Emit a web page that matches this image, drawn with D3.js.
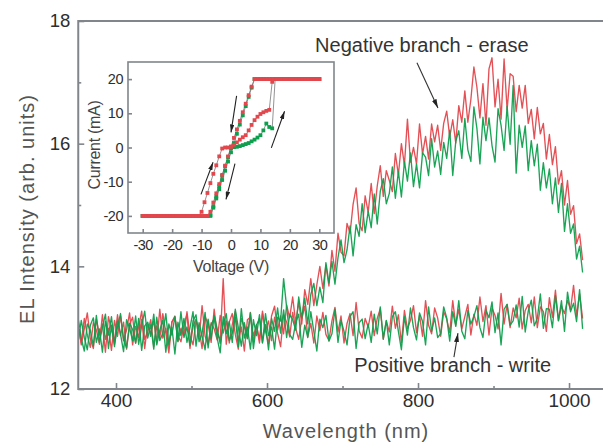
<!DOCTYPE html>
<html><head><meta charset="utf-8">
<script src="https://cdn.jsdelivr.net/npm/d3@7"></script>
<style>
body{margin:0;background:#fff;}
svg{display:block;font-family:"Liberation Sans",Arial,Helvetica,sans-serif;}
</style></head><body>
<svg id="chart" width="603" height="444"></svg>
<script>
// EL spectra, sampled every 4 nm from 350 nm
const wavelengthStart = 350;
const wavelengthStep = 4;

const negRed = [
13.10,12.72,12.98,13.24,12.82,12.66,13.14,12.88,13.06,12.60,13.18,12.96,
12.79,13.21,12.87,13.09,12.65,13.05,13.17,12.75,13.01,13.27,12.81,12.93,
13.13,12.69,13.03,12.83,13.23,12.91,12.59,13.09,13.19,12.77,12.99,12.87,
13.26,12.86,12.72,13.12,12.98,12.66,13.18,13.06,12.76,13.30,12.90,12.80,
13.80,12.73,13.09,13.23,12.89,12.65,13.15,13.01,12.83,13.25,12.77,13.05,
12.80,13.23,12.94,12.74,13.19,13.35,12.96,13.19,12.90,13.37,13.16,13.50,
13.08,13.42,13.06,13.62,13.38,13.80,13.36,13.70,14.00,13.64,14.02,13.68,
14.26,13.92,14.54,14.23,14.17,14.70,14.54,15.01,15.28,14.70,14.58,15.15,
14.88,15.35,14.86,15.31,15.64,15.14,15.56,15.40,15.22,15.84,15.49,16.00,
15.65,16.40,15.70,15.94,15.67,16.32,15.83,16.12,15.75,16.32,16.03,16.30,
15.89,16.33,16.53,16.11,16.39,16.01,16.62,16.35,16.86,16.35,16.72,17.25,
16.92,16.42,16.98,16.30,17.22,17.40,16.60,17.05,16.40,17.38,16.55,17.14,
17.10,16.52,16.95,16.58,16.95,16.33,16.56,16.08,16.59,16.16,16.33,15.75,
16.15,15.66,15.95,15.34,15.56,15.00,15.40,14.85,14.99,14.37,14.53,14.10];

const negGreen = [
13.14,12.82,12.62,13.06,12.96,12.70,13.20,12.76,13.00,13.22,12.66,13.04,
12.69,13.11,12.89,12.61,13.13,12.99,12.79,13.19,12.73,13.03,13.27,12.83,
13.05,12.65,13.17,12.79,12.91,13.23,12.73,13.01,12.57,13.09,12.87,13.15,
12.76,13.00,13.26,12.70,13.08,12.86,12.64,13.14,12.82,13.20,12.98,12.74,
13.05,13.23,12.79,12.91,13.17,12.69,13.31,12.83,13.01,12.65,13.13,12.87,
13.21,12.76,13.05,12.64,13.15,12.94,13.32,12.91,13.29,12.84,13.22,13.13,
12.96,13.50,13.16,13.48,13.06,13.54,13.72,13.36,13.66,13.41,14.06,13.73,
14.08,13.71,14.14,14.43,14.06,14.27,14.66,14.17,14.68,14.49,15.02,14.55,
14.90,14.63,15.18,14.69,15.22,15.43,15.02,15.19,15.62,15.11,15.55,15.13,
15.71,15.39,15.85,15.30,15.67,15.28,15.85,15.78,15.48,16.08,15.62,15.88,
15.50,16.02,15.76,16.22,15.48,16.04,16.21,15.76,16.41,15.90,15.71,16.60,
16.25,15.67,16.43,16.05,16.42,15.97,15.70,16.57,16.30,15.89,16.61,15.99,
16.95,15.52,16.30,15.94,16.29,15.56,16.05,15.64,15.99,15.24,15.69,15.28,
15.59,15.02,15.44,14.88,15.35,14.57,15.02,14.54,14.69,14.12,14.33,13.90];

const posRed = [
13.03,12.75,13.15,12.88,12.68,13.08,12.96,12.73,13.21,12.81,12.99,12.63,
13.12,12.86,13.19,12.79,12.96,13.24,12.72,13.02,12.84,13.14,12.66,13.06,
12.90,13.11,12.75,13.30,12.83,12.99,12.69,13.09,13.17,12.87,12.77,13.05,
13.22,12.66,13.02,13.14,12.82,13.36,12.86,12.72,13.08,12.98,12.80,13.20,
12.91,13.11,12.75,13.05,13.27,12.79,13.01,12.62,13.13,13.17,12.87,13.03,
12.75,13.27,12.95,13.11,12.79,13.17,12.91,12.69,13.21,13.09,12.85,13.25,
12.99,12.81,13.15,13.35,12.85,13.07,12.75,13.19,12.95,13.25,12.89,12.79,
13.11,13.33,12.93,13.19,12.75,13.07,13.23,12.87,13.41,12.95,12.83,13.15,
13.01,13.27,12.87,13.15,13.31,12.81,13.11,12.93,13.35,12.99,13.21,12.75,
13.28,12.98,13.12,13.36,12.92,13.20,12.86,13.44,13.04,12.90,13.32,13.16,
12.86,13.26,13.14,12.92,13.44,13.04,13.30,12.98,13.18,13.38,12.88,13.22,
13.04,13.50,13.10,13.36,12.88,13.32,13.20,12.98,13.56,13.06,13.38,13.00,
13.32,13.16,13.48,12.98,13.28,13.38,13.08,13.50,13.00,13.34,13.26,12.94,
13.49,13.17,13.61,13.11,13.35,13.23,13.45,13.29,13.69,13.19,13.55,13.15];

const posGreen = [
12.78,13.12,12.84,12.64,13.04,13.16,12.76,12.98,12.60,13.10,12.88,13.18,
12.73,13.01,13.23,12.81,12.67,13.07,12.97,12.75,13.15,12.63,13.03,13.09,
12.86,13.22,12.72,12.96,13.12,12.60,13.06,12.88,13.18,12.78,13.26,12.84,
13.01,12.71,13.11,13.21,12.77,12.91,13.25,12.67,13.05,13.15,12.83,12.59,
13.18,12.90,13.10,12.76,13.30,13.00,12.70,13.08,12.82,13.24,12.66,13.04,
13.15,12.75,13.23,12.87,13.01,12.65,13.17,13.11,13.80,13.33,12.89,12.81,
13.08,13.22,12.68,13.04,12.84,13.26,12.94,12.62,13.14,13.00,13.20,12.78,
12.90,13.30,12.76,13.12,12.94,12.72,13.18,13.26,12.66,13.08,13.14,12.82,
13.06,12.76,13.22,12.90,13.34,12.82,13.12,12.72,13.18,13.26,12.94,12.64,
13.18,12.88,13.32,13.00,12.80,13.24,13.10,12.72,13.34,12.94,13.16,12.84,
12.90,13.34,13.16,12.78,13.26,13.02,13.44,12.94,12.82,13.28,13.06,13.18,
13.36,13.00,12.84,13.28,13.16,13.42,12.92,13.24,12.72,13.30,13.38,13.04,
13.11,13.37,13.01,13.51,12.93,13.27,13.45,13.03,13.15,13.55,12.99,13.31,
13.30,13.00,13.52,13.12,13.44,12.94,13.58,13.26,13.40,13.10,13.62,12.98];

const wavelengthTicks = [400, 600, 800, 1000];
const wavelengthMinorTicks = [500, 700, 900];
const intensityTicks = [12, 14, 16, 18];
const intensityMinorTicks = [13, 15, 17];

// I-V sweeps (inset): voltage grid, forward sweep -30 -> 30, reverse sweep 30 -> -30
const insetVoltage = [-30,-29,-28,-27,-26,-25,-24,-23,-22,-21,-20,-19,-18,-17,-16,-15,-14,-13,-12,-11,
  -10,-9,-8,-7,-6,-5,-4,-3,-2,-1,0,1,2,3,4,5,6,7,8,9,10,11,12,13,14,15,16,17,18,19,20,
  21,22,23,24,25,26,27,28,29,30];
const redForward = [-20,-20,-20,-20,-20,-20,-20,-20,-20,-20,-20,-20,-20,-20,-20,-20,-20,-20,-20,-20,
  -18.8,-16,-13.3,-10.4,-7.7,-5.2,-2.6,-0.3,0,0,0.2,0.8,1.5,2.3,3.0,3.6,5.0,6.6,8.0,9.0,9.8,10.3,10.7,11.0,19.2,
  20,20,20,20,20,20,20,20,20,20,20,20,20,20,20,20];
const greenForward = [-20,-20,-20,-20,-20,-20,-20,-20,-20,-20,-20,-20,-20,-20,-20,-20,-20,-20,-20,-20,
  -20,-20,-20,-19.8,-17.2,-14.3,-11.3,-8.3,-5.5,-2.8,-0.2,0.1,0.2,0.4,0.7,1.0,1.3,1.8,2.3,2.9,3.6,5.0,7.0,6.0,5.6,
  20,20,20,20,20,20,20,20,20,20,20,20,20,20,20,20];
// reverse sweeps listed from +30 V down to -30 V
const redReverse = [20,20,20,20,20,20,20,20,20,20,20,20,20,20,20,20,20,20,20,20,20,20,20,
  17.8,15.3,12.8,10.3,7.8,5.3,2.8,0.3,-2.6,-5.3,-8.0,-10.7,-13.4,-16.1,-18.8,
  -20,-20,-20,-20,-20,-20,-20,-20,-20,-20,-20,-20,-20,-20,-20,-20,-20,-20,-20,-20,-20,-20,-20];
const greenReverse = [20,20,20,20,20,20,20,20,20,20,20,20,20,20,20,20,20,20,20,20,20,20,20,
  17.5,14.8,12.1,9.4,6.7,4.0,1.3,-1.4,-4.1,-6.8,-9.5,-12.2,-14.9,-17.6,-20,
  -20,-20,-20,-20,-20,-20,-20,-20,-20,-20,-20,-20,-20,-20,-20,-20,-20,-20,-20,-20,-20,-20,-20];
const voltageTicks = [-30, -20, -10, 0, 10, 20, 30];
const currentTicks = [-20, -10, 0, 10, 20];

// sweep-direction arrows in the inset: [V0, I0, V1, I1]
const insetArrows = [[-10.2,-13.7,-6.1,-4.3],[1.9,15.1,0.0,4.4],[1.35,-4.7,-1.7,-15.2],[13.7,-0.1,18.2,10.6]];
// annotations on the spectra: text baseline anchor (nm, intensity) and arrow [nm0, I0, nm1, I1]
const annotations = [
  {text: "Negative branch - erase", at: [805, 17.49], arrow: [798.6, 17.32, 826.4, 16.58]},
  {text: "Positive branch - write", at: [846, 12.27], arrow: [847.6, 12.52, 852.9, 12.91]}
];

const RED = "#e1474c", GREEN = "#0d9f4d", AXIS = "#80868c";

const svg = d3.select("#chart");
const x = d3.scaleLinear().domain([350, 1045]).range([78.25, 603]);
const y = d3.scaleLinear().domain([12, 18]).range([389, 21]);

const defs = svg.append("defs");
defs.append("clipPath").attr("id", "plotClip").append("rect")
  .attr("x", x(350)).attr("y", y(18)).attr("width", 603 - x(350)).attr("height", y(12) - y(18));
function head(id, len, wid) {
  defs.append("marker").attr("id", id).attr("viewBox", `0 0 ${len} ${wid}`)
    .attr("refX", len).attr("refY", wid / 2).attr("markerWidth", len).attr("markerHeight", wid)
    .attr("markerUnits", "userSpaceOnUse").attr("orient", "auto")
    .append("path").attr("d", `M0,0L${len},${wid/2}L0,${wid}Z`).attr("fill", "#222");
}
head("headMain", 9, 5);
head("headInset", 8, 4.5);

// spectra
const wl = i => wavelengthStart + i * wavelengthStep;
const line = d3.line().x((d, i) => x(wl(i))).y(d => y(d));
const traces = svg.append("g").attr("clip-path", "url(#plotClip)");
[[negRed, RED], [posRed, RED], [negGreen, GREEN], [posGreen, GREEN]].forEach(([vals, col]) => {
  traces.append("path").datum(vals).attr("d", line)
    .attr("fill", "none").attr("stroke", col).attr("stroke-width", 1.35)
    .attr("stroke-linejoin", "round").attr("stroke-opacity", 0.95);
});

// frame (right edge lies beyond the view)
svg.append("path")
  .attr("d", `M${x(1045)+4},${y(18)}H${x(350)}V${y(12)}H${x(1045)+4}`)
  .attr("fill", "none").attr("stroke", AXIS).attr("stroke-width", 2);

function styleAxis(g, size) {
  g.select(".domain").remove();
  g.selectAll(".tick line").attr("stroke", AXIS).attr("stroke-width", 1.6);
  g.selectAll(".tick text").attr("fill", "#2e2e2e").attr("font-size", size).attr("font-family", null);
}
const gx = svg.append("g").attr("transform", `translate(0,${y(12)})`)
  .call(d3.axisBottom(x).tickValues(wavelengthTicks).tickSize(-6).tickSizeOuter(0).tickPadding(5).tickFormat(d => String(d)));
styleAxis(gx, 19);
const gxm = svg.append("g").attr("transform", `translate(0,${y(12)})`)
  .call(d3.axisBottom(x).tickValues(wavelengthMinorTicks).tickSize(-3).tickSizeOuter(0).tickFormat(""));
styleAxis(gxm, 19);
const gy = svg.append("g").attr("transform", `translate(${x(350)},0)`)
  .call(d3.axisLeft(y).tickValues(intensityTicks).tickSize(-6).tickSizeOuter(0).tickPadding(8).tickFormat(d => String(d)));
styleAxis(gy, 18.5);
const gym = svg.append("g").attr("transform", `translate(${x(350)},0)`)
  .call(d3.axisLeft(y).tickValues(intensityMinorTicks).tickSize(-3).tickSizeOuter(0).tickFormat(""));
styleAxis(gym, 18.5);

svg.append("text").attr("x", 346).attr("y", 438).attr("text-anchor", "middle")
  .attr("font-size", 20).attr("letter-spacing", 1).attr("fill", "#555").text("Wavelength (nm)");
svg.append("text").attr("transform", "translate(34,209) rotate(-90)").attr("text-anchor", "middle")
  .attr("font-size", 20).attr("letter-spacing", 1).attr("fill", "#555").text("EL Intensity (arb. units)");

// annotations
annotations.forEach(a => {
  svg.append("text").attr("x", x(a.at[0])).attr("y", y(a.at[1])).attr("text-anchor", "middle")
    .attr("font-size", 20).attr("fill", "#333").text(a.text);
  svg.append("line").attr("x1", x(a.arrow[0])).attr("y1", y(a.arrow[1]))
    .attr("x2", x(a.arrow[2])).attr("y2", y(a.arrow[3]))
    .attr("stroke", "#333").attr("stroke-width", 1.1).attr("marker-end", "url(#headMain)");
});

// inset: I-V hysteresis
const ix = d3.scaleLinear().domain([-35, 35]).range([128, 334]);
const iy = d3.scaleLinear().domain([-25, 25]).range([233, 62]);
const inset = svg.append("g");
inset.append("rect").attr("x", ix(-35)).attr("y", iy(25)).attr("width", ix(35) - ix(-35))
  .attr("height", iy(-25) - iy(25)).attr("fill", "#fff").attr("stroke", AXIS).attr("stroke-width", 1.6);

const ixAxis = inset.append("g").attr("transform", `translate(0,${iy(-25)})`)
  .call(d3.axisBottom(ix).tickValues(voltageTicks).tickSize(-4).tickSizeOuter(0).tickPadding(7).tickFormat(d => String(d)));
styleAxis(ixAxis, 14.5);
const iyAxis = inset.append("g").attr("transform", `translate(${ix(-35)},0)`)
  .call(d3.axisLeft(iy).tickValues(currentTicks).tickSize(-4).tickSizeOuter(0).tickPadding(5).tickFormat(d => String(d)));
styleAxis(iyAxis, 14.5);
inset.selectAll(".tick text").attr("letter-spacing", -0.5);

inset.append("text").attr("x", 231).attr("y", 272).attr("text-anchor", "middle")
  .attr("font-size", 16).attr("letter-spacing", -0.3).attr("fill", "#444").text("Voltage (V)");
inset.append("text").attr("transform", "translate(100,145) rotate(-90)").attr("text-anchor", "middle")
  .attr("font-size", 16).attr("letter-spacing", -0.3).attr("fill", "#444").text("Current (mA)");

const reversedV = insetVoltage.slice().reverse();
const sweeps = [
  [insetVoltage, greenForward, GREEN], [reversedV, greenReverse, GREEN],
  [insetVoltage, redForward, RED], [reversedV, redReverse, RED]
];
const ivLine = d3.line().x(d => ix(d[0])).y(d => iy(d[1]));
sweeps.forEach(([vs, cs]) => {
  inset.append("path").datum(vs.map((v, i) => [v, cs[i]])).attr("d", ivLine)
    .attr("fill", "none").attr("stroke", "#777").attr("stroke-width", 0.8);
});
sweeps.forEach(([vs, cs, col]) => {
  inset.append("g").selectAll("rect").data(vs.map((v, i) => [v, cs[i]])).join("rect")
    .attr("x", d => ix(d[0]) - 1.9).attr("y", d => iy(d[1]) - 1.9)
    .attr("width", 3.8).attr("height", 3.8).attr("fill", col);
});
insetArrows.forEach(a => {
  inset.append("line").attr("x1", ix(a[0])).attr("y1", iy(a[1])).attr("x2", ix(a[2])).attr("y2", iy(a[3]))
    .attr("stroke", "#222").attr("stroke-width", 1.1).attr("marker-end", "url(#headInset)");
});
</script>
</body></html>
